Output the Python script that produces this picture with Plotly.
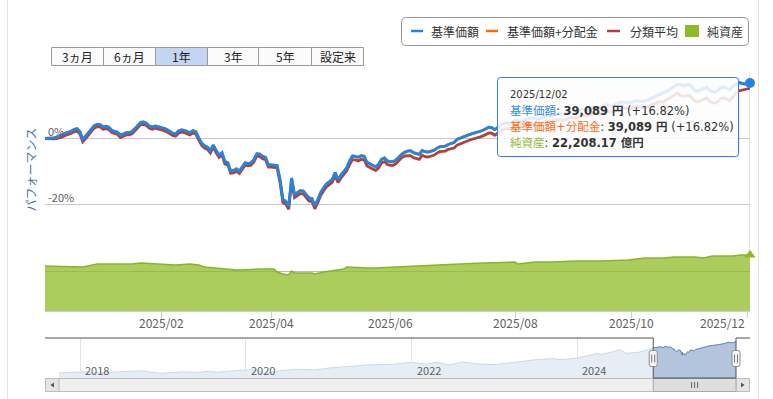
import pandas as pd
import plotly.graph_objects as go

W, H = 773, 399

# ---------------- data ----------------
jp_holidays = ["2024-12-31", "2025-01-01", "2025-01-02", "2025-01-03", "2025-01-13",
               "2025-02-11", "2025-02-24", "2025-03-20", "2025-04-29", "2025-05-05",
               "2025-05-06", "2025-07-21", "2025-08-11", "2025-09-15", "2025-09-23",
               "2025-10-13", "2025-11-03", "2025-11-24"]

# 基準価額 performance (%) per trading day, 2024/12/02 .. 2025/12/02
base_pct = [
    0.0, 0.0, 0.0, 0.2, 0.4, 0.7, 1.2, 1.6, 1.8, 2.2,
    2.7, 3.0, 2.1, -0.3, 0.7, 1.8, 2.9, 3.9, 4.3, 4.2,
    3.5, 3.7, 3.4, 2.5, 2.2, 1.9, 1.0, 1.3, 1.8, 1.8,
    2.1, 3.0, 3.8, 4.9, 5.0, 4.6, 3.8, 3.5, 3.8, 3.6,
    3.3, 3.1, 2.7, 2.2, 1.6, 1.4, 2.3, 2.6, 2.5, 2.1,
    1.8, 2.4, 2.0, 0.2, -1.4, -2.2, -2.6, -3.7, -2.0, -3.6,
    -5.0, -4.3, -7.0, -7.3, -9.8, -9.7, -9.2, -9.9, -8.8, -7.4,
    -7.6, -7.4, -6.4, -4.6, -4.7, -5.4, -5.7, -8.0, -8.0, -8.1,
    -8.2, -12.4, -18.5, -19.0, -20.6, -12.0, -17.0, -16.4, -15.8, -15.9,
    -16.9, -18.0, -18.2, -20.4, -18.6, -16.4, -15.0, -13.8, -13.1, -12.4,
    -10.3, -12.4, -11.1, -9.8, -8.9, -6.8, -5.3, -5.4, -5.7, -5.2,
    -5.4, -7.2, -7.7, -8.2, -8.6, -7.8, -6.3, -5.9, -6.8, -7.0,
    -7.0, -6.5, -5.6, -4.7, -4.2, -3.8, -3.7, -4.3, -4.6, -4.8,
    -3.6, -4.0, -4.1, -3.9, -3.6, -3.0, -2.5, -2.4, -2.3, -1.8,
    -1.6, -1.2, -0.3, 0.1, 0.4, 0.7, 1.1, 1.4, 1.6, 1.8,
    2.2, 2.5, 2.9, 3.4, 3.3, 2.7, 3.3, 4.0, 4.5, 4.7,
    4.5, 4.8, 5.4, 5.4, 5.2, 5.5, 6.0, 6.2, 6.3, 6.2,
    5.9, 6.1, 6.7, 6.9, 6.8, 7.0, 7.3, 7.6, 7.4, 7.3,
    7.8, 8.2, 8.1, 7.9, 8.3, 8.8, 8.7, 8.5, 8.9, 9.3,
    9.3, 9.1, 9.6, 10.2, 10.1, 9.8, 10.0, 10.5, 10.8, 11.1,
    11.0, 10.7, 10.8, 11.3, 11.4, 11.3, 11.2, 11.4, 11.7, 12.2,
    12.6, 12.9, 13.2, 13.6, 14.2, 14.7, 15.2, 15.8, 16.4, 16.3,
    16.1, 16.2, 16.4, 15.6, 14.6, 14.4, 14.8, 15.3, 15.5, 14.7,
    14.2, 14.0, 14.6, 15.5, 15.6, 15.2, 14.8, 15.7, 16.5, 17.0,
    16.8, 16.5, 16.7, 16.82]

# 基準価額+分配金 (no distributions in the period -> same as 基準価額)
dist_pct = list(base_pct)

# 分類平均 performance (%)
avg_pct = [
    0.0, -0.1, -0.2, -0.1, 0.0, 0.2, 0.5, 0.9, 1.1, 1.5,
    2.0, 2.3, 1.4, -1.0, 0.0, 1.1, 2.2, 3.2, 3.6, 3.5,
    2.8, 3.0, 2.7, 1.8, 1.5, 1.2, 0.3, 0.6, 1.1, 1.1,
    1.4, 2.3, 3.1, 4.2, 4.3, 3.9, 3.1, 2.8, 3.1, 2.9,
    2.6, 2.4, 2.0, 1.5, 0.9, 0.7, 1.6, 1.9, 1.8, 1.4,
    1.1, 1.7, 1.3, -0.5, -2.1, -2.9, -3.3, -4.4, -2.7, -4.3,
    -5.7, -5.0, -7.7, -8.0, -10.5, -10.4, -9.9, -10.6, -9.5, -8.1,
    -8.3, -8.1, -7.1, -5.3, -5.4, -6.1, -6.4, -8.7, -8.7, -8.8,
    -8.9, -13.3, -19.4, -19.9, -21.5, -12.9, -17.9, -17.3, -16.7, -16.8,
    -17.8, -18.9, -19.1, -21.3, -19.5, -17.3, -15.9, -14.7, -14.0, -13.3,
    -11.2, -13.3, -12.0, -10.7, -9.8, -7.9, -6.4, -6.5, -6.8, -6.3,
    -6.5, -8.3, -8.8, -9.3, -9.7, -8.9, -7.4, -7.0, -7.9, -8.1,
    -8.1, -7.6, -6.7, -5.8, -5.3, -5.3, -5.2, -5.8, -6.1, -6.3,
    -5.1, -5.5, -5.6, -5.4, -5.1, -4.5, -4.0, -3.9, -3.8, -3.3,
    -3.1, -2.9, -2.0, -1.6, -1.3, -1.0, -0.6, -0.3, -0.1, 0.1,
    0.5, 0.8, 1.2, 1.7, 1.6, 1.0, 1.6, 2.3, 2.8, 3.0,
    2.8, 3.0, 3.6, 3.6, 3.4, 3.7, 4.2, 4.4, 4.5, 4.4,
    4.1, 4.3, 4.9, 5.1, 5.0, 5.2, 5.5, 5.8, 5.6, 5.5,
    6.0, 6.4, 6.3, 6.1, 6.5, 7.0, 6.9, 6.7, 7.1, 7.5,
    7.5, 7.3, 7.8, 8.4, 8.3, 8.0, 8.2, 8.7, 9.0, 9.3,
    9.2, 8.9, 9.0, 9.5, 9.6, 9.5, 9.2, 9.4, 9.7, 10.2,
    10.6, 10.9, 11.2, 11.0, 11.6, 12.1, 12.6, 13.2, 13.8, 13.0,
    12.8, 12.9, 13.1, 12.3, 11.3, 11.1, 11.5, 12.0, 12.2, 11.4,
    10.9, 10.7, 11.3, 12.2, 12.3, 11.9, 11.5, 12.4, 13.6, 14.4,
    14.6, 14.6, 15.0, 15.2]

# 純資産 (億円)
net_dates = ["2024-12-02", "2024-12-19", "2024-12-26", "2025-01-20", "2025-01-23",
             "2025-02-10", "2025-02-18", "2025-02-21", "2025-02-26", "2025-03-10",
             "2025-03-13", "2025-03-26", "2025-04-02", "2025-04-03", "2025-04-07",
             "2025-04-09", "2025-04-10", "2025-04-11", "2025-04-21", "2025-04-22",
             "2025-04-25", "2025-05-09", "2025-05-12", "2025-05-21", "2025-05-26",
             "2025-06-04", "2025-06-12", "2025-06-24", "2025-07-04", "2025-07-16",
             "2025-07-29", "2025-08-01", "2025-08-04", "2025-08-13", "2025-08-21",
             "2025-09-02", "2025-09-16", "2025-09-30", "2025-10-08", "2025-10-17",
             "2025-10-23", "2025-11-04", "2025-11-07", "2025-11-12", "2025-11-21",
             "2025-11-27", "2025-12-02"]
net_oku = [17850, 17450, 18640, 18640, 19040,
           18240, 18640, 18240, 17450, 16660,
           16260, 16660, 16660, 15470, 14670,
           14280, 15870, 15070, 15070, 14670,
           15470, 16660, 17450, 17050, 17050,
           17450, 17850, 18240, 18640, 19040,
           19430, 19430, 18640, 19430, 19430,
           19830, 19830, 20230, 21020, 21020,
           21420, 21420, 21020, 21810, 21810,
           22200, 22208.17]

base_price_last = 39089  # 円, 2025/12/02

# navigator: 基準価額 history before the 1-year window
nav_hist_dates = ["2017-09-29", "2017-12-29", "2018-01-26", "2018-02-09", "2018-03-23",
                  "2018-06-01", "2018-09-28", "2018-10-31", "2018-12-25", "2019-03-29",
                  "2019-06-03", "2019-07-26", "2019-08-26", "2019-12-27", "2020-02-20",
                  "2020-03-23", "2020-06-08", "2020-09-02", "2020-10-30", "2020-12-30",
                  "2021-03-31", "2021-06-30", "2021-09-30", "2021-12-31", "2022-03-08",
                  "2022-04-20", "2022-06-16", "2022-08-16", "2022-10-13", "2022-12-30",
                  "2023-03-31", "2023-06-30", "2023-09-15", "2023-10-27", "2023-12-29",
                  "2024-03-29", "2024-04-19", "2024-07-10", "2024-08-05", "2024-09-30",
                  "2024-11-29"]
nav_hist_price = [10000, 10700, 11300, 10300, 10000,
                  10900, 12100, 11100, 9700, 11100,
                  10600, 11600, 10800, 12700, 13100,
                  9300, 12400, 13600, 12800, 14600,
                  16300, 17700, 17900, 20100, 18200,
                  20000, 17600, 20300, 18700, 17900,
                  20000, 22400, 23500, 22600, 23900,
                  28300, 27300, 31800, 28500, 29500,
                  33200]

range_buttons = ["3ヵ月", "6ヵ月", "1年", "3年", "5年", "設定来"]
selected_button = "1年"
legend_names = ["基準価額", "基準価額+分配金", "分類平均", "純資産"]
y_ticks = [-20, 0, 20]
x_tick_months = ["2025-02-01", "2025-04-01", "2025-06-01", "2025-08-01", "2025-10-01", "2025-12-01"]
nav_years = ["2018", "2020", "2022", "2024"]

# ---------------- calendar / helpers ----------------
bd = pd.bdate_range("2024-12-02", "2025-12-02")
trade_days = bd[~bd.isin(pd.to_datetime(jp_holidays))]
n = len(trade_days)
xi = list(range(n))


def ordinal(dates):
    return [int(v) for v in trade_days.searchsorted(pd.to_datetime(dates))]


def px(x):
    return x / W


def py(y):
    return 1 - y / H


C_BLUE = "#1f86e6"
C_ORANGE = "#ff6a00"
C_RED = "#b0413e"
C_GREEN = "#8dba26"
FONT = "Noto Sans CJK JP"
FONT_NUM = "DejaVu Sans, Noto Sans CJK JP"

XL, XR = 45, 750
MAIN_TOP, MAIN_BOT = 72.5, 243
NET_TOP, NET_BOT = 243, 311
NAV_TOP, NAV_BOT = 338, 378
NAV_XL, NAV_XR = 59, 736
PX_PER_PCT = 3.3

fig = go.Figure()

# main performance lines
fig.add_trace(go.Scatter(x=xi, y=dist_pct, mode="lines", line=dict(color=C_ORANGE, width=2.8),
                         name=legend_names[1], xaxis="x", yaxis="y", hoverinfo="skip"))
fig.add_trace(go.Scatter(x=xi, y=avg_pct, mode="lines", line=dict(color=C_RED, width=2.8),
                         name=legend_names[2], xaxis="x", yaxis="y", hoverinfo="skip"))
fig.add_trace(go.Scatter(x=xi, y=base_pct, mode="lines", line=dict(color=C_BLUE, width=2.8),
                         name=legend_names[0], xaxis="x", yaxis="y", hoverinfo="skip"))

# net assets area
net_x = ordinal(net_dates)
fig.add_trace(go.Scatter(x=net_x, y=net_oku, mode="lines", fill="tozeroy",
                         fillcolor="rgba(141,188,38,0.75)", line=dict(color="#86b52a", width=1.5),
                         name=legend_names[3], xaxis="x2", yaxis="y2", hoverinfo="skip"))

# navigator
nav_last_part = [base_price_last / (1 + base_pct[-1] / 100) * (1 + p / 100) for p in base_pct]
nav_all_x = list(pd.to_datetime(nav_hist_dates)) + list(trade_days)
nav_all_y = nav_hist_price + nav_last_part
fig.add_trace(go.Scatter(x=nav_all_x, y=nav_all_y, mode="lines", fill="tozeroy",
                         fillcolor="#e7edf5", line=dict(color="#cdd9e8", width=1),
                         xaxis="x3", yaxis="y3", hoverinfo="skip"))
fig.add_trace(go.Scatter(x=list(trade_days), y=nav_last_part, mode="lines", fill="tozeroy",
                         fillcolor="#b3c4dd", line=dict(color="#6082ba", width=1),
                         xaxis="x3", yaxis="y3", hoverinfo="skip"))

# end markers
fig.add_trace(go.Scatter(x=[xi[-1]], y=[base_pct[-1]], mode="markers",
                         marker=dict(color=C_BLUE, size=10), cliponaxis=False,
                         xaxis="x", yaxis="y", hoverinfo="skip"))
fig.add_trace(go.Scatter(x=[net_x[-1]], y=[net_oku[-1]], mode="markers",
                         marker=dict(color=C_GREEN, size=10, symbol="triangle-up"), cliponaxis=False,
                         xaxis="x2", yaxis="y2", hoverinfo="skip"))

dom_x = [px(XL), px(XR)]
tick_idx = ordinal(x_tick_months)
fig.update_layout(
    width=W, height=H, margin=dict(l=0, r=0, t=0, b=0),
    paper_bgcolor="white", plot_bgcolor="rgba(0,0,0,0)",
    showlegend=False, font=dict(family=FONT, color="#333333"),
    xaxis=dict(domain=dom_x, range=[0, n - 1], anchor="y", showgrid=False, zeroline=False,
               showticklabels=False, ticks=""),
    yaxis=dict(domain=[py(MAIN_BOT), py(MAIN_TOP)],
               range=[20 - (MAIN_BOT - MAIN_TOP) / PX_PER_PCT, 20], anchor="x",
               tickvals=y_ticks, showticklabels=False, gridcolor="#c6c6c6", gridwidth=1,
               zeroline=False, ticks=""),
    xaxis2=dict(domain=dom_x, range=[0, n - 1], anchor="y2", showgrid=False, zeroline=False,
                tickvals=tick_idx, showticklabels=False, ticks="outside", ticklen=6,
                tickcolor="#c0d0e0", showline=True, linecolor="#c0d0e0"),
    yaxis2=dict(domain=[py(NET_BOT), py(NET_TOP)], range=[0, 27000], anchor="x2",
                tickvals=[15500], showticklabels=False, gridcolor="#b8b8b8", zeroline=False, ticks=""),
    xaxis3=dict(domain=[px(NAV_XL), px(NAV_XR)], type="date",
                range=[pd.Timestamp(nav_hist_dates[0]), trade_days[-1]], anchor="y3",
                tickvals=[f"{y}-01-01" for y in nav_years], showticklabels=False,
                gridcolor="#e4e4e4", zeroline=False, ticks=""),
    yaxis3=dict(domain=[py(NAV_BOT), py(NAV_TOP)], range=[5300, 42850], anchor="x3",
                showgrid=False, showticklabels=False, zeroline=False, ticks=""),
)


def rr_path(x0, y0, x1, y1, r):
    return (f"M{px(x0 + r)},{py(y0)} L{px(x1 - r)},{py(y0)} Q{px(x1)},{py(y0)} {px(x1)},{py(y0 + r)} "
            f"L{px(x1)},{py(y1 - r)} Q{px(x1)},{py(y1)} {px(x1 - r)},{py(y1)} "
            f"L{px(x0 + r)},{py(y1)} Q{px(x0)},{py(y1)} {px(x0)},{py(y1 - r)} "
            f"L{px(x0)},{py(y0 + r)} Q{px(x0)},{py(y0)} {px(x0 + r)},{py(y0)} Z")


shapes = []
annos = []


def rect(x0, y0, x1, y1, fill, line, lw=1, layer="above"):
    shapes.append(dict(type="rect", xref="paper", yref="paper", x0=px(x0), x1=px(x1),
                       y0=py(y1), y1=py(y0), fillcolor=fill, line=dict(color=line, width=lw),
                       layer=layer))


def hline(x0, x1, y, color, w=1):
    shapes.append(dict(type="line", xref="paper", yref="paper", x0=px(x0), x1=px(x1),
                       y0=py(y), y1=py(y), line=dict(color=color, width=w)))


def vline(x, y0, y1, color, w=1, layer="above"):
    shapes.append(dict(type="line", xref="paper", yref="paper", x0=px(x), x1=px(x),
                       y0=py(y0), y1=py(y1), line=dict(color=color, width=w), layer=layer))


def text(x, y, s, size=12, color="#333333", xanchor="center", family=FONT, **kw):
    annos.append(dict(xref="paper", yref="paper", x=px(x), y=py(y), text=s, showarrow=False,
                      xanchor=xanchor, yanchor="middle", font=dict(size=size, color=color, family=family),
                      **kw))


# container borders
vline(7.5, 0, H, "#e2e2e2")
vline(758.5, 0, H, "#e2e2e2")

# crosshair at the hovered point
shapes.append(dict(type="line", xref="x", yref="paper", x0=xi[-1], x1=xi[-1], y0=py(253), y1=py(MAIN_TOP),
                   line=dict(color="#c8c8c8", width=1), layer="below"))

# legend
shapes.append(dict(type="path", xref="paper", yref="paper", path=rr_path(401.5, 17.5, 748.5, 45.5, 5),
                   line=dict(color="#959595", width=1), fillcolor="white"))
hline(411, 423, 31, C_BLUE, 2.5)
text(429, 31, legend_names[0], xanchor="left")
hline(486, 498, 31, C_ORANGE, 2.5)
text(505, 31, legend_names[1], xanchor="left")
hline(607, 620, 31, C_RED, 2.5)
text(628, 31, legend_names[2], xanchor="left")
rect(685, 25, 699, 37, C_GREEN, C_GREEN, 0)
text(705, 31, legend_names[3], xanchor="left")

# range buttons
bx = [51, 103, 155, 207, 258, 311, 363]
for i, lab in enumerate(range_buttons):
    sel = lab == selected_button
    rect(bx[i] + 0.5, 47.5, bx[i + 1] + 0.5, 65.5, "#c3d5f0" if sel else "#fbfbfb", "#9a9a9a")
    text((bx[i] + bx[i + 1]) / 2 + 0.5, 56.5, lab, size=12, color="#222222")

# y-axis title and labels
annos.append(dict(xref="paper", yref="paper", x=px(19), y=py(170), text="パフォーマンス", showarrow=False,
                  textangle=-90, font=dict(size=12, color="#4d759e", family=FONT)))
for v in y_ticks[:2]:
    annos.append(dict(xref="paper", yref="y", x=px(46), y=v, text=f"{v}%", showarrow=False,
                      xanchor="left", yanchor="bottom", yshift=-2,
                      font=dict(size=11, color="#606060", family=FONT)))

# x-axis labels (last one kept inside the plot)
for k, (ti, m) in enumerate(zip(tick_idx, x_tick_months)):
    lab = m[:7].replace("-", "/")
    last = k == len(tick_idx) - 1
    annos.append(dict(xref="x2", yref="paper", x=ti, y=py(322.5), text=lab, showarrow=False,
                      xanchor="right" if last else "center", yanchor="middle",
                      font=dict(size=12, color="#606060", family=FONT)))

# navigator year labels
for yv in nav_years:
    annos.append(dict(xref="x3", yref="paper", x=f"{yv}-01-01", y=py(370), text=yv, showarrow=False,
                      xanchor="left", xshift=3, yanchor="middle",
                      font=dict(size=11, color="#606060", family=FONT)))

# navigator outline, handles and scrollbar
t0 = pd.Timestamp(nav_hist_dates[0])
t1 = trade_days[-1]


def nav_px(d):
    return NAV_XL + (pd.Timestamp(d) - t0) / (t1 - t0) * (NAV_XR - NAV_XL)


hl = nav_px(trade_days[0])
hr = nav_px(trade_days[-1])

SB_TOP, SB_BOT = 378.5, 391.5
rect(XL + 0.5, SB_TOP, XR - 0.5, SB_BOT, "#efefef", "#bdbdbd")
rect(XL + 0.5, SB_TOP, NAV_XL, SB_BOT, "#e4e4e4", "#bdbdbd")
rect(NAV_XR, SB_TOP, XR - 0.5, SB_BOT, "#e4e4e4", "#bdbdbd")
rect(hl, SB_TOP, hr, SB_BOT, "#dedede", "#a9a9a9")
cx = (hl + hr) / 2
for dx in (-3, 0, 3):
    vline(cx + dx, 382, 388, "#666666")
shapes.append(dict(type="path", xref="paper", yref="paper",
                   path=f"M{px(50.5)},{py(385)} L{px(54)},{py(382.5)} L{px(54)},{py(387.5)} Z",
                   fillcolor="#555555", line=dict(width=0)))
shapes.append(dict(type="path", xref="paper", yref="paper",
                   path=f"M{px(744.5)},{py(385)} L{px(741)},{py(382.5)} L{px(741)},{py(387.5)} Z",
                   fillcolor="#555555", line=dict(width=0)))

shapes.append(dict(type="path", xref="paper", yref="paper",
                   path=(f"M{px(XL)},{py(NAV_TOP)} L{px(hl)},{py(NAV_TOP)} L{px(hl)},{py(NAV_BOT)} "
                         f"L{px(hr)},{py(NAV_BOT)} L{px(hr)},{py(NAV_TOP)} L{px(XR)},{py(NAV_TOP)}"),
                   line=dict(color="#505050", width=1)))
for h in (hl, hr):
    shapes.append(dict(type="path", xref="paper", yref="paper", path=rr_path(h - 4, 350.5, h + 4, 366.5, 2),
                       fillcolor="#f4f4f4", line=dict(color="#8c8c8c", width=1)))
    vline(h - 1.5, 354.5, 362.5, "#777777")
    vline(h + 1.5, 354.5, 362.5, "#777777")

# tooltip
shapes.append(dict(type="path", xref="paper", yref="paper", path=rr_path(499, 79, 740, 158, 3),
                   fillcolor="rgba(0,0,0,0.06)", line=dict(width=0)))
shapes.append(dict(type="path", xref="paper", yref="paper", path=rr_path(497.5, 77.5, 738.5, 156.5, 3),
                   fillcolor="rgba(255,255,255,0.86)", line=dict(color="#2f82e0", width=1)))

last_date = trade_days[-1].strftime("%Y/%m/%d")
pct_txt = f"(+{base_pct[-1]:.2f}%)"
text(508, 94.5, last_date, size=10, xanchor="left", family=FONT_NUM, height=13)
text(508, 110.5, f"<span style='color:#3a8ee6'>{legend_names[0]}</span>: <b>{base_price_last:,} 円</b> {pct_txt}",
     size=11.5, xanchor="left", family=FONT_NUM, height=15)
text(508, 126.5, f"<span style='color:#ff6a13'>{legend_names[1]}</span>: <b>{base_price_last:,} 円</b> {pct_txt}",
     size=11.5, xanchor="left", family=FONT_NUM, height=15)
text(508, 142.5, f"<span style='color:#8fbc3a'>{legend_names[3]}</span>: <b>{net_oku[-1]:,.2f} 億円</b>",
     size=11.5, xanchor="left", family=FONT_NUM, height=15)

fig.update_layout(shapes=shapes, annotations=annos)
fig.write_html("out.html", config={"displayModeBar": False})
